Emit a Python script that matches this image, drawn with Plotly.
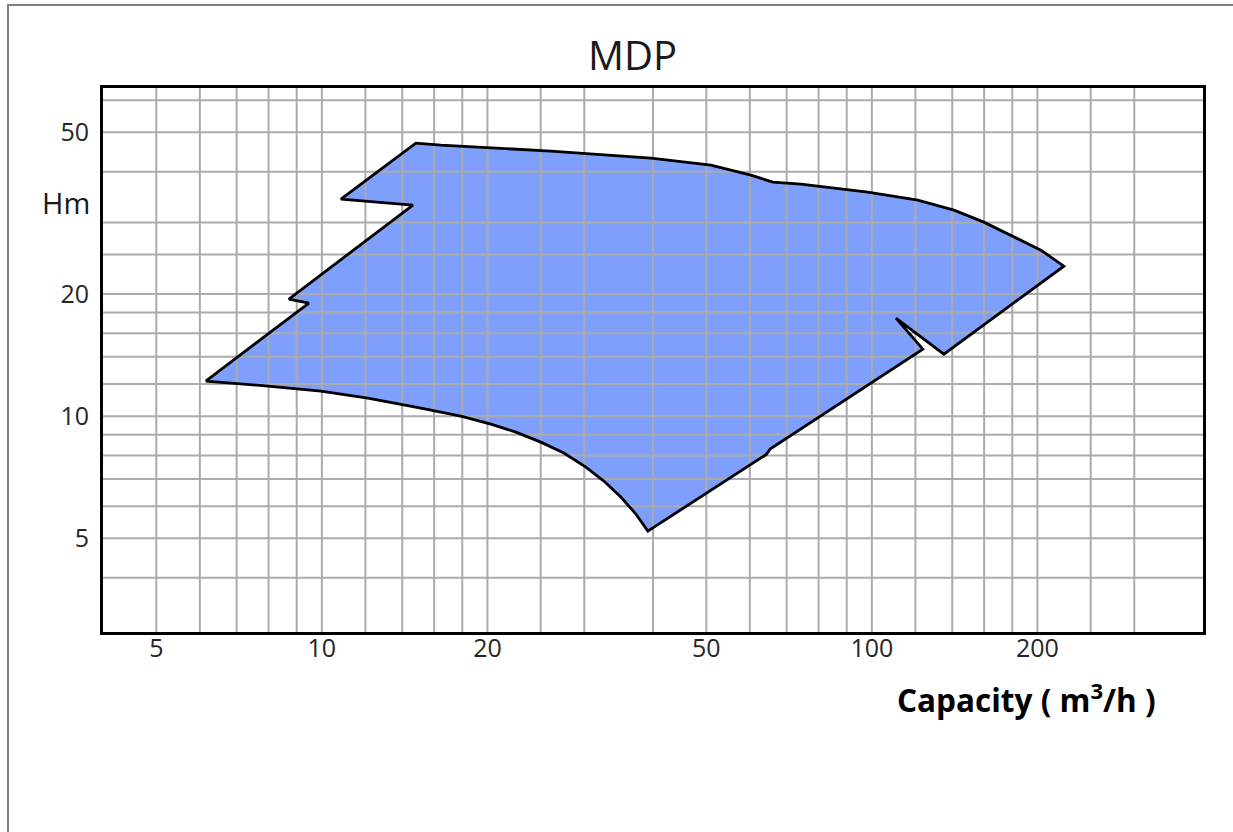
import math
import plotly.graph_objects as go

# ---- data (Capacity m3/h, Head m) ----
capacity = [6.15, 9.47, 8.71, 14.64, 10.83, 14.82, 16.46, 26.08, 39.65, 50.96, 60.26, 66.07,
            74.3, 98.3, 121.2, 141.0, 159.8, 181.2, 202.9, 223.4, 135.2, 110.6, 123.8,
            65.3, 64.3, 39.15, 37.23, 34.96, 32.56, 30.2, 27.54, 25.01, 22.53, 20.29,
            17.89, 15.14, 12.12, 9.96, 7.98, 6.15]
head = [12.2, 18.98, 19.42, 33.1, 34.23, 47.03, 46.5, 44.96, 43.2, 41.5, 39.23, 37.7,
        37.27, 35.62, 34.04, 32.17, 30.05, 27.6, 25.64, 23.41, 14.21, 17.43, 14.62,
        8.30, 8.05, 5.21, 5.74, 6.32, 6.92, 7.49, 8.11, 8.63, 9.13, 9.56,
        10.0, 10.46, 11.08, 11.52, 11.86, 12.2]

x_ticks = [5, 10, 20, 50, 100, 200]
x_ticktext = ["5", "10", "20", "50", "100", "200"]
y_ticks = [5, 10, 20, 50]
y_ticktext = ["5", "10", "20", "50"]

x_grid = [5, 6, 7, 8, 9, 10, 12, 14, 16, 18, 20, 25, 30, 40, 50, 60, 70, 80, 90, 100,
          120, 140, 160, 180, 200, 250, 300]
y_grid = [4, 5, 6, 7, 8, 9, 10, 12, 14, 16, 18, 20, 25, 30, 40, 50, 60]

x_min, x_max = 4.0, 400.0
y_min, y_max = 2.94, 64.3

title_text = "MDP"
y_label = "Hm"
x_label = "Capacity ( m<sup>3</sup>/h )"

FONT = "Open Sans"
FILL = "#7f9ffd"
GRID = "#ababab"
TICK_COLOR = "#262626"

fig = go.Figure()

# filled operating region
fig.add_trace(go.Scatter(x=capacity, y=head, mode="lines", fill="toself",
                         fillcolor=FILL, line=dict(width=0), hoverinfo="skip",
                         showlegend=False))

# grid drawn over the fill
gx, gy = [], []
for v in x_grid:
    gx += [v, v, None]
    gy += [y_min, y_max, None]
fig.add_trace(go.Scatter(x=gx, y=gy, mode="lines", line=dict(color=GRID, width=2),
                         hoverinfo="skip", showlegend=False))
hx, hy = [], []
for v in y_grid:
    hx += [x_min, x_max, None]
    hy += [v, v, None]
fig.add_trace(go.Scatter(x=hx, y=hy, mode="lines", line=dict(color=GRID, width=2),
                         hoverinfo="skip", showlegend=False))

# outline
fig.add_trace(go.Scatter(x=capacity, y=head, mode="lines",
                         line=dict(color="black", width=2.8), hoverinfo="skip",
                         showlegend=False))

W, H = 1233, 832
L, R, T, B = 103, 30, 88, 200
pw, ph = W - L - R, H - T - B


def px(xp):
    return (xp - L) / pw


def py(yp):
    return (H - B - yp) / ph


fig.update_layout(
    width=W, height=H,
    margin=dict(l=L, r=R, t=T, b=B, pad=0),
    paper_bgcolor="white", plot_bgcolor="white",
    font=dict(family=FONT, color=TICK_COLOR, size=25),
    showlegend=False,
    xaxis=dict(type="log", range=[math.log10(x_min), math.log10(x_max)],
               tickvals=x_ticks, ticktext=x_ticktext, showgrid=False, zeroline=False,
               showline=True, linecolor="black", linewidth=3, mirror=True,
               ticks="", ticklabelstandoff=-8,
               tickfont=dict(size=25, family=FONT, color=TICK_COLOR)),
    yaxis=dict(type="log", range=[math.log10(y_min), math.log10(y_max)],
               tickvals=y_ticks, ticktext=y_ticktext, showgrid=False, zeroline=False,
               showline=True, linecolor="black", linewidth=3, mirror=True,
               ticks="", ticklabelstandoff=6,
               tickfont=dict(size=25, family=FONT, color=TICK_COLOR)),
    annotations=[
        dict(text=title_text, xref="paper", yref="paper", x=px(632), y=py(54),
             xanchor="center", yanchor="middle", showarrow=False,
             font=dict(size=40, family=FONT, color="#1a1a1a")),
        dict(text=y_label, xref="paper", yref="paper", x=px(92), y=py(202),
             xanchor="right", yanchor="middle", showarrow=False,
             font=dict(size=29, family=FONT, color="#1a1a1a")),
        dict(text="<b>" + x_label + "</b>", xref="paper", yref="paper", x=px(1026), y=py(698),
             xanchor="center", yanchor="middle", showarrow=False,
             font=dict(size=31.5, family=FONT, color="black")),
    ],
    shapes=[
        dict(type="rect", xref="paper", yref="paper", x0=px(8), x1=px(1245),
             y0=py(845), y1=py(5), line=dict(color="#7f7f7f", width=2),
             fillcolor="rgba(0,0,0,0)", layer="below"),
    ],
)

fig.write_html("out.html", config={"displayModeBar": False},
               post_script="document.body.style.margin='0';document.body.style.overflow='hidden';")
